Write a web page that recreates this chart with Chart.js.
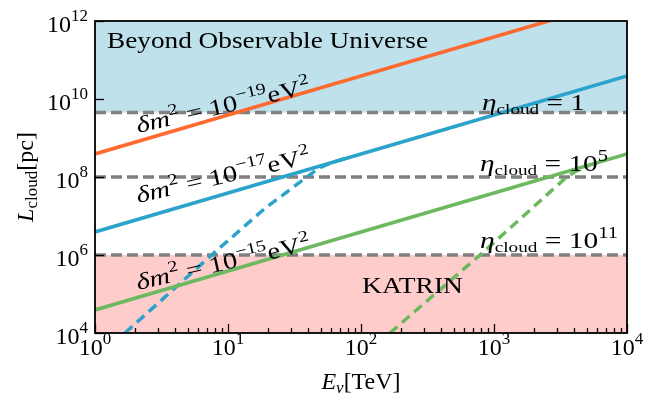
<!DOCTYPE html>
<html>
<head>
<meta charset="utf-8">
<script src="https://cdn.jsdelivr.net/npm/chart.js@4/dist/chart.umd.min.js"></script>
<style>
  html, body { margin: 0; padding: 0; background: #ffffff; }
  #c { display: block; }
</style>
</head>
<body>
<canvas id="c" width="647" height="397"></canvas>
<script>
// ---------------- data ----------------
const energyGrid = [1, 10, 100, 1000, 10000];                       // E_nu [TeV]
const Lsolid_1e19 = [3.9e8, 3.9e9, 3.9e10, 3.9e11, 3.9e12];          // dm^2 = 1e-19 eV^2
const Lsolid_1e17 = [3.9e6, 3.9e7, 3.9e8, 3.9e9, 3.9e10];            // dm^2 = 1e-17 eV^2
const Lsolid_1e15 = [3.9e4, 3.9e5, 3.9e6, 3.9e7, 3.9e8];             // dm^2 = 1e-15 eV^2

const dashedBlueE = [1.68, 7.53, 19.0, 47.8, 60.3, 75.9];
const dashedBlueL = [1e4, 1e6, 1.58e7, 1.66e8, 2.34e8, 2.96e8];
const dashedGreenE = [165, 785, 1862, 3516, 4266, 5248];
const dashedGreenL = [1e4, 1e6, 1.41e7, 1e8, 1.48e8, 2.0e8];

const etaLevels = [4.5e9, 1e8, 1e6];          // eta_cloud = 1, 1e5, 1e11
const universeLimit = 4.5e9;                   // "Beyond Observable Universe" above
const katrinLimit = 1e6;                       // KATRIN below
const xRange = [1, 1e4];
const yRange = [1e4, 1e12];
const xMajorTicks = [1, 10, 100, 1000, 10000];
const xTickExponents = ['0', '1', '2', '3', '4'];
const yMajorTicks = [1e4, 1e6, 1e8, 1e10, 1e12];
const yTickExponents = ['4', '6', '8', '10', '12'];

// ---------------- helpers ----------------
const SERIF = "'Liberation Serif','DejaVu Serif',serif";
function fnt(size, italic) { return (italic ? 'italic ' : '') + size + 'px ' + SERIF; }
function pts(xs, ys) { return xs.map((x, i) => ({ x: x, y: ys[i] })); }

function runsWidth(ctx, runs) {
  let w = 0;
  for (const r of runs) { ctx.font = fnt(r.s, r.i); w += ctx.measureText(r.t).width; }
  return w;
}
function drawRuns(ctx, runs, x, y, opts) {
  opts = opts || {};
  ctx.save();
  ctx.translate(x, y);
  if (opts.angle) ctx.rotate(opts.angle);
  const w = runsWidth(ctx, runs);
  const sx = opts.width ? opts.width / w : 1;
  const W = w * sx;
  let start = 0;
  if (opts.align === 'center') start = -W / 2;
  else if (opts.align === 'right') start = -W;
  ctx.translate(start, 0);
  ctx.scale(sx, 1);
  ctx.textBaseline = 'alphabetic';
  ctx.textAlign = 'left';
  ctx.fillStyle = '#000';
  let cx = 0;
  for (const r of runs) {
    ctx.font = fnt(r.s, r.i);
    ctx.fillText(r.t, cx, r.dy || 0);
    cx += ctx.measureText(r.t).width;
  }
  ctx.restore();
}

const COL_ORANGE = '#ff6a30';
const COL_BLUE = '#2ba3cb';
const COL_GREEN = '#6cb95f';
const COL_GRAY = '#808080';

function dmLabel(exp) {
  return [
    { t: 'δ', s: 23, i: true },
    { t: 'm', s: 23, i: true },
    { t: '2', s: 16, dy: -10 },
    { t: ' = 10', s: 23 },
    { t: '−' + exp, s: 16, dy: -10 },
    { t: 'eV', s: 23 },
    { t: '2', s: 16, dy: -10 }
  ];
}
function etaLabel(exp) {
  const r = [
    { t: 'η', s: 23, i: true },
    { t: 'cloud', s: 15, dy: 4 }
  ];
  if (exp === null) r.push({ t: ' = 1', s: 23 });
  else { r.push({ t: ' = 10', s: 23 }); r.push({ t: exp, s: 16, dy: -10 }); }
  return r;
}

const decorPlugin = {
  id: 'decor',
  afterDatasetsDraw(chart) {
    const ctx = chart.ctx;
    const ang = -13 * Math.PI / 180;
    drawRuns(ctx, [{ t: 'Beyond Observable Universe', s: 23 }], 107, 48, { width: 321 });
    drawRuns(ctx, [{ t: 'KATRIN', s: 24 }], 362, 293, { width: 101 });
    drawRuns(ctx, dmLabel('19'), 138, 133, { angle: ang, width: 178 });
    drawRuns(ctx, dmLabel('17'), 138, 203, { angle: ang, width: 178 });
    drawRuns(ctx, dmLabel('15'), 138, 290, { angle: ang, width: 178 });
    drawRuns(ctx, etaLabel(null), 482, 110, { width: 103 });
    drawRuns(ctx, etaLabel('5'), 480, 171, { width: 128 });
    drawRuns(ctx, etaLabel('11'), 480, 248, { width: 138 });
  },
  afterDraw(chart) {
    const ctx = chart.ctx;
    const a = chart.chartArea;
    const xs = chart.scales.x, ys = chart.scales.y;
    ctx.save();
    ctx.strokeStyle = '#000';
    ctx.lineWidth = 1.3;
    for (let d = 0; d < xMajorTicks.length; d++) {
      const px = Math.round(xs.getPixelForValue(xMajorTicks[d])) + 0.5;
      ctx.beginPath(); ctx.moveTo(px, a.bottom); ctx.lineTo(px, a.bottom - 9); ctx.stroke();
      if (d < xMajorTicks.length - 1) {
        for (let m = 2; m <= 9; m++) {
          const p = Math.round(xs.getPixelForValue(xMajorTicks[d] * m)) + 0.5;
          ctx.beginPath(); ctx.moveTo(p, a.bottom); ctx.lineTo(p, a.bottom - 5); ctx.stroke();
        }
      }
    }
    for (const v of yMajorTicks) {
      const py = Math.round(ys.getPixelForValue(v)) + 0.5;
      ctx.beginPath(); ctx.moveTo(a.left, py); ctx.lineTo(a.left + 9, py); ctx.stroke();
    }
    ctx.lineWidth = 1.8;
    ctx.strokeRect(a.left, a.top, a.right - a.left, a.bottom - a.top);
    ctx.restore();

    xMajorTicks.forEach((v, i) => {
      drawRuns(ctx, [{ t: '10', s: 24 }, { t: xTickExponents[i], s: 17, dy: -11 }],
        xs.getPixelForValue(v), 355, { align: 'center' });
    });
    yMajorTicks.forEach((v, i) => {
      drawRuns(ctx, [{ t: '10', s: 24 }, { t: yTickExponents[i], s: 17, dy: -11 }],
        88, ys.getPixelForValue(v) + 11, { align: 'right' });
    });
    drawRuns(ctx, [{ t: 'E', s: 24, i: true }, { t: 'ν', s: 17, i: true, dy: 4 }, { t: '[TeV]', s: 24 }],
      (a.left + a.right) / 2, 389, { align: 'center' });
    drawRuns(ctx, [{ t: 'L', s: 24, i: true }, { t: 'cloud', s: 17, dy: 4 }, { t: '[pc]', s: 24 }],
      33, (a.top + a.bottom) / 2, { align: 'center', angle: -Math.PI / 2 });
  }
};

function lineDs(data, color, dash, width) {
  return {
    data: data, borderColor: color, borderWidth: width || 3.6, borderDash: dash || [],
    pointRadius: 0, fill: false, tension: 0, clip: 0, borderCapStyle: 'butt'
  };
}

const datasets = [
  lineDs(pts(energyGrid, Lsolid_1e19), COL_ORANGE),
  lineDs(pts(energyGrid, Lsolid_1e17), COL_BLUE),
  lineDs(pts(energyGrid, Lsolid_1e15), COL_GREEN),
  lineDs(pts(dashedBlueE, dashedBlueL), COL_BLUE, [10, 6], 3.5),
  lineDs(pts(dashedGreenE, dashedGreenL), COL_GREEN, [10, 6], 3.5),
  lineDs(pts(xRange, [etaLevels[0], etaLevels[0]]), COL_GRAY, [11, 5], 3.6),
  lineDs(pts(xRange, [etaLevels[1], etaLevels[1]]), COL_GRAY, [11, 5], 3.6),
  lineDs(pts(xRange, [etaLevels[2], etaLevels[2]]), COL_GRAY, [11, 5], 3.6),
  { data: pts(xRange, [universeLimit, universeLimit]), borderWidth: 0, pointRadius: 0,
    fill: 'end', backgroundColor: '#bee1ec', clip: 0 },
  { data: pts(xRange, [katrinLimit, katrinLimit]), borderWidth: 0, pointRadius: 0,
    fill: 'start', backgroundColor: '#ffcccc', clip: 0 }
];

new Chart(document.getElementById('c'), {
  type: 'line',
  data: { datasets: datasets },
  options: {
    responsive: false,
    animation: false,
    devicePixelRatio: 1,
    layout: { padding: { left: 0, right: 20, top: 21, bottom: 0 } },
    plugins: { legend: { display: false }, tooltip: { enabled: false } },
    scales: {
      x: {
        type: 'logarithmic', min: xRange[0], max: xRange[1],
        ticks: { display: false }, grid: { display: false }, border: { display: false },
        afterFit(s) { s.height = 64; }
      },
      y: {
        type: 'logarithmic', min: yRange[0], max: yRange[1],
        ticks: { display: false }, grid: { display: false }, border: { display: false },
        afterFit(s) { s.width = 95; }
      }
    }
  },
  plugins: [decorPlugin]
});
</script>
</body>
</html>
